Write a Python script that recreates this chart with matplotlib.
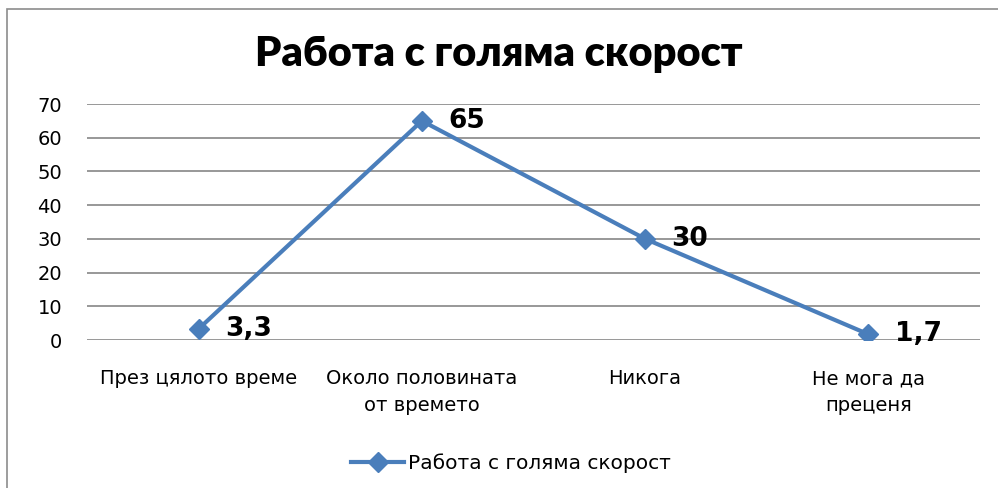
import matplotlib.pyplot as plt
from matplotlib.patches import Rectangle

plt.rcParams['font.family'] = ['DejaVu Sans']

# Данни
categories = ['През цялото време', 'Около половината\nот времето', 'Никога', 'Не мога да\nпреценя']
values = [3.3, 65, 30, 1.7]
value_labels = ['3,3', '65', '30', '1,7']
series_name = 'Работа с голяма скорост'

line_color = '#4A7EBB'

fig = plt.figure(figsize=(9.98, 4.88), dpi=100)
ax = fig.add_axes([87 / 998, 1 - 340 / 488, 893 / 998, 236 / 488])

# рамка около графиката
fig.patches.append(Rectangle((7 / 998, -0.1), 1.2, 1 - 9 / 488 + 0.1,
                             transform=fig.transFigure, fill=False,
                             edgecolor='#8c8c8c', linewidth=1.2))

x = range(len(categories))
ax.plot(x, values, color=line_color, linewidth=3, marker='D', markersize=10,
        label=series_name, zorder=3)

for xi, v, lab in zip(x, values, value_labels):
    ax.annotate(lab, (xi, v), xytext=(19, 0), textcoords='offset points',
                ha='left', va='center', fontsize=19, fontweight='bold',
                zorder=4)

ax.set_xlim(-0.5, len(categories) - 0.5)
ax.set_ylim(0, 70)
ax.set_yticks(range(0, 71, 10))
ax.set_xticks(list(x))
ax.set_xticklabels(categories, fontsize=14, linespacing=1.55)
ax.tick_params(axis='y', labelsize=14, length=0, pad=18)
ax.tick_params(axis='x', length=0, pad=21)

ax.grid(axis='y', color='#868686', linewidth=1.2)
ax.set_axisbelow(True)
for side in ['top', 'right', 'left', 'bottom']:
    ax.spines[side].set_visible(False)

fig.text(0.5, 1 - 54 / 488, 'Работа с голяма скорост', ha='center', va='center',
         fontsize=30, fontweight='heavy', family='Lato')

fig.legend(loc='center', bbox_to_anchor=(0.512, 1 - 463 / 488), frameon=False,
           fontsize=14.5, handlelength=2.6, handletextpad=0.2)

fig.savefig('out.png', dpi=100)
